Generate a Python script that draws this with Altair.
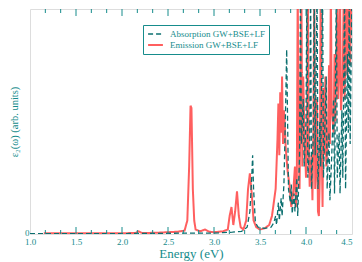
import altair as alt
import pandas as pd

# Emission GW+BSE+LF (red, solid)
emi_energy = [1.15, 1.5, 2.0, 2.15, 2.18, 2.22, 2.4, 2.5, 2.6, 2.68, 2.71, 2.73, 2.745, 2.755, 2.77, 2.785,
              2.8, 2.85, 2.9, 2.95, 3.0, 3.1, 3.15, 3.17, 3.19, 3.21, 3.23, 3.25, 3.27, 3.29, 3.32, 3.35,
              3.37, 3.39, 3.41, 3.43, 3.46, 3.5, 3.55, 3.6, 3.63, 3.65, 3.67, 3.69, 3.7, 3.71, 3.72, 3.73,
              3.74, 3.75, 3.76, 3.77, 3.78, 3.8, 3.82, 3.84, 3.86, 3.88, 3.89, 3.9, 3.91, 3.92, 3.93, 3.94,
              3.95, 3.96, 3.97, 3.98, 4.0, 4.01, 4.02, 4.03, 4.04, 4.06, 4.07, 4.08, 4.09, 4.1, 4.11, 4.12,
              4.13, 4.14, 4.15, 4.16, 4.17, 4.18, 4.19, 4.2, 4.21, 4.22, 4.24, 4.25, 4.26, 4.27, 4.28, 4.3,
              4.31, 4.32, 4.34, 4.35, 4.36, 4.37, 4.38, 4.4, 4.41, 4.42, 4.43, 4.44, 4.45, 4.46, 4.47, 4.48,
              4.49, 4.5]
emi_eps = [0.3, 0.3, 0.3, 0.5, 1.2, 0.4, 0.6, 0.8, 1.0, 1.5, 6, 30, 57, 56, 20, 6,
           2, 1.2, 2, 1, 0.8, 1.2, 2, 8, 12, 4, 10, 19, 8, 3, 2, 6,
           20, 27, 18, 6, 3, 2, 2.5, 4, 8, 14, 20, 42, 58, 35, 63, 45,
           70, 40, 55, 48, 38, 28, 22, 12, 18, 30, 12, 22, 110, 45, 20, 60,
           110, 30, 70, 50, 25, 35, 110, 40, 21, 35, 15, 45, 110, 20, 30, 60,
           10, 8, 25, 110, 40, 12, 65, 35, 70, 30, 45, 75, 40, 110, 55, 45,
           80, 50, 110, 60, 75, 110, 55, 70, 110, 60, 85, 110, 70, 90, 110, 75,
           110, 90]

# Absorption GW+BSE+LF (teal, dashed)
abs_energy = [1.0, 2.0, 2.4, 2.8, 3.0, 3.2, 3.3, 3.36, 3.39, 3.41, 3.42, 3.43, 3.45, 3.48, 3.55, 3.62,
              3.65, 3.67, 3.68, 3.7, 3.71, 3.73, 3.74, 3.76, 3.77, 3.78, 3.79, 3.8, 3.81, 3.83, 3.84, 3.85,
              3.87, 3.88, 3.9, 3.91, 3.93, 3.94, 3.95, 3.97, 3.98, 4.0, 4.01, 4.02, 4.04, 4.05, 4.06, 4.08,
              4.09, 4.1, 4.12, 4.13, 4.15, 4.16, 4.18, 4.19, 4.2, 4.22, 4.23, 4.25, 4.26, 4.28, 4.3, 4.31,
              4.33, 4.34, 4.36, 4.37, 4.39, 4.4, 4.42, 4.43, 4.45, 4.46, 4.47, 4.48, 4.5]
abs_eps = [0.2, 0.2, 0.3, 0.4, 0.4, 0.8, 1.2, 3, 10, 25, 35, 20, 5, 3, 2.5, 3,
           5, 8, 4, 14, 6, 16, 8, 22, 40, 60, 82, 50, 20, 14, 22, 9,
           18, 10, 25, 8, 35, 110, 40, 60, 30, 50, 110, 25, 40, 110, 20, 45,
           110, 35, 110, 20, 50, 30, 110, 25, 40, 70, 20, 45, 15, 35, 60, 18,
           110, 25, 45, 18, 55, 25, 110, 20, 80, 45, 110, 40, 110]

series_names = ["Absorption GW+BSE+LF", "Emission GW+BSE+LF"]
major_ticks = [1.0, 1.5, 2.0, 2.5, 3.0, 3.5, 4.0, 4.5]
minor_ticks = [round(1.0 + i / 6, 4) for i in range(1, 21) if i % 3 != 0]

TEAL = "#168c8c"
DARK = "#0b6f6f"
RED = "#ff2a2a"
FONT = "Liberation Serif"
W, H = 322, 225

emi = pd.DataFrame({"E": emi_energy, "eps": emi_eps, "s": series_names[1]})
ab = pd.DataFrame({"E": abs_energy, "eps": abs_eps, "s": series_names[0]})

xs = alt.Scale(domain=[1.0, 4.5], nice=False, zero=False)
ys = alt.Scale(domain=[0, 100], nice=False)
color = alt.Color("s:N", scale=alt.Scale(domain=series_names, range=[DARK, RED]),
                  legend=alt.Legend(title=None, orient="none", legendX=113, legendY=16,
                                    symbolType="stroke", symbolSize=220, symbolStrokeWidth=2,
                                    labelFont=FONT, labelFontSize=9, labelColor=TEAL,
                                    strokeColor=TEAL, padding=4, rowPadding=1, clipHeight=10,
                                    labelOffset=6, fillColor="white", labelLimit=200))
dash = alt.StrokeDash("s:N", scale=alt.Scale(domain=series_names, range=[[5, 3], [1, 0]]),
                      legend=alt.Legend(title=None))
xenc = alt.X("E:Q", scale=xs,
             axis=alt.Axis(values=major_ticks, format=".1f", ticks=False, domain=False, grid=False,
                           labelFlush=False, labelFont=FONT, labelFontSize=9, labelColor=TEAL,
                           labelAlign={"condition": {"test": "datum.value >= 4.49", "value": "right"},
                                       "value": "center"},
                           labelPadding=3, title="Energy (eV)", titleFont=FONT, titleFontSize=13,
                           titleFontWeight="normal", titleColor=TEAL, titleY=23,
                           titleBaseline="alphabetic"))
yenc = alt.Y("eps:Q", scale=ys,
             axis=alt.Axis(values=[0], ticks=False, domain=False, grid=False, labelFont=FONT,
                           labelFontSize=9, labelColor=TEAL, labelPadding=1,
                           labelBaseline="alphabetic", labelOffset=1,
                           title="ε₂(ω) (arb. units)", titleFont=FONT, titleFontSize=10.5,
                           titleFontWeight="normal", titleColor=TEAL, titleX=-16, titleY=H / 2,
                           titleAngle=-90, titleAlign="center", titleBaseline="middle"))

emi_line = alt.Chart(emi).mark_line(clip=True, strokeWidth=2, opacity=0.75).encode(
    x=xenc, y=yenc, color=color, strokeDash=dash)
ab_line = alt.Chart(ab).mark_line(clip=True, strokeWidth=1.3).encode(
    x=alt.X("E:Q", scale=xs), y=alt.Y("eps:Q", scale=ys), color=color, strokeDash=dash)

maj = pd.DataFrame({"t": major_ticks[1:-1]})
mnr = pd.DataFrame({"t": minor_ticks})
tick_layers = []
for df, ln in [(maj, 7), (mnr, 4)]:
    base = alt.Chart(df).mark_rule(color=TEAL, strokeWidth=1)
    tick_layers.append(base.encode(x=alt.X("t:Q", scale=xs), y=alt.value(0), y2=alt.value(ln)))
    tick_layers.append(base.encode(x=alt.X("t:Q", scale=xs), y=alt.value(H), y2=alt.value(H - ln)))

chart = alt.layer(emi_line, ab_line, *tick_layers).properties(
    width=W, height=H,
    autosize=alt.AutoSizeParams(type="none"),
    padding={"left": 22, "top": 1, "right": 2, "bottom": 28},
).configure_view(stroke=TEAL, strokeWidth=1.5).configure(background="white")

chart.save("out.html", embed_options={"renderer": "svg", "actions": False})
